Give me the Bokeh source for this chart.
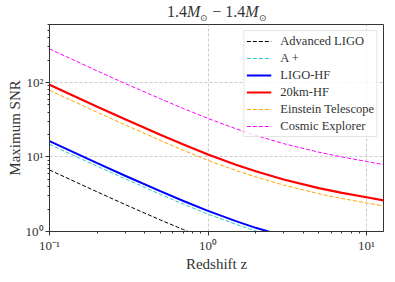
import math
from bokeh.plotting import figure
from bokeh.models import Legend, LegendItem, LogTicker, Div
from bokeh.layouts import column
from bokeh.embed import file_html
from bokeh.resources import INLINE

# ---------------- data ----------------
z = [0.1, 0.2, 0.3, 0.5, 0.7, 1.0, 1.5, 2.0, 3.0, 5.0, 7.0, 10.0, 12.8]
snr_20km_hf = [92.9, 47.2, 32.0, 19.9, 14.7, 10.8, 7.87, 6.43, 4.98, 3.82, 3.30, 2.88, 2.62]
snr_et = [78.5, 39.8, 27.0, 16.7, 12.3, 9.0, 6.6, 5.4, 4.2, 3.21, 2.77, 2.42, 2.20]
snr_ce = [282, 143, 97, 60.5, 44.6, 32.9, 23.9, 19.5, 15.1, 11.6, 10.0, 8.7, 7.9]
z_ligo = [0.1, 0.2, 0.3, 0.5, 0.7, 1.0, 1.5, 2.0, 3.0]
snr_ligo_hf = [16.3, 8.27, 5.6, 3.48, 2.57, 1.89, 1.38, 1.12, 0.87]
snr_aplus = [14.8, 7.5, 5.1, 3.16, 2.33, 1.71, 1.25, 1.02, 0.79]
z_aligo = [0.1, 0.2, 0.3, 0.5, 0.7, 1.0]
snr_aligo = [6.7, 3.4, 2.3, 1.43, 1.06, 0.78]

series_labels = ["Advanced LIGO", "A +", "LIGO-HF", "20km-HF", "Einstein Telescope", "Cosmic Explorer"]
x_ticks = [0.1, 1, 10]
x_tick_labels = ["10⁻¹", "10⁰", "10¹"]
y_ticks = [1, 10, 100]
y_tick_labels = ["10⁰", "10¹", "10²"]

X0, X1 = 0.1, 12.8
Y0, Y1 = 1.0, 600.0

FONT = "Liberation Serif"
INK = "#333333"

W, H = 386, 254
BL, BR, BT, BB = 49, 3, 4, 39
TITLE_H = 20

p = figure(width=W, height=H, x_axis_type="log", y_axis_type="log",
           x_range=(X0, X1), y_range=(Y0, Y1),
           output_backend="svg", toolbar_location=None,
           min_border_left=BL, min_border_right=BR, min_border_top=BT, min_border_bottom=BB)

p.background_fill_color = "white"
p.border_fill_color = "white"
p.outline_line_color = INK
p.outline_line_width = 1

for ax in (p.xaxis[0], p.yaxis[0]):
    ax.axis_line_color = INK
    ax.major_tick_line_color = INK
    ax.minor_tick_line_color = INK
    ax.major_tick_out = 4
    ax.major_tick_in = 0
    ax.minor_tick_out = 2
    ax.minor_tick_in = 0
    ax.major_label_text_font = FONT
    ax.major_label_text_font_size = "13px"
    ax.major_label_text_color = INK
    ax.major_label_standoff = 2
    ax.axis_label_text_font = FONT
    ax.axis_label_text_font_size = "15px"
    ax.axis_label_text_font_style = "normal"
    ax.axis_label_text_color = INK
    ax.axis_label_standoff = 0

p.xaxis.axis_label = "Redshift z"
p.yaxis.axis_label = "Maximum SNR"

p.xaxis.ticker = LogTicker(desired_num_ticks=3, num_minor_ticks=10)
p.yaxis.ticker = LogTicker(desired_num_ticks=3, num_minor_ticks=10)
p.xaxis.major_label_overrides = {t: l for t, l in zip(x_ticks, x_tick_labels)}
p.yaxis.major_label_overrides = {t: l for t, l in zip(y_ticks, y_tick_labels)}

for g in (p.xgrid[0], p.ygrid[0]):
    g.grid_line_color = "#cccccc"
    g.grid_line_dash = "3 2"
    g.grid_line_width = 1

r_aligo = p.line(z_aligo, snr_aligo, line_color="black", line_width=1, line_dash="4 2")
r_aplus = p.line(z_ligo, snr_aplus, line_color="#30c8c8", line_width=1, line_dash="4 2")
r_hf = p.line(z_ligo, snr_ligo_hf, line_color="blue", line_width=2)
r_et = p.line(z, snr_et, line_color="#ffa500", line_width=1, line_dash="4 2")
r_20 = p.line(z, snr_20km_hf, line_color="red", line_width=2.2)
r_ce = p.line(z, snr_ce, line_color="magenta", line_width=1, line_dash="4 2")

legend = Legend(items=[LegendItem(label=lab, renderers=[r]) for lab, r in
                       zip(series_labels, [r_aligo, r_aplus, r_hf, r_20, r_et, r_ce])],
                location="top_right")
legend.margin = 6
legend.padding = 2
legend.spacing = 1
legend.glyph_width = 25
legend.glyph_height = 16
legend.label_height = 16
legend.label_standoff = 9
legend.label_text_font = FONT
legend.label_text_font_size = "12.5px"
legend.label_text_color = INK
legend.border_line_color = "#cccccc"
legend.background_fill_color = "white"
legend.background_fill_alpha = 0.8
p.add_layout(legend)

title_html = (
    '<div style="font-family:\'Liberation Serif\',serif;font-size:16px;color:#333333;'
    'line-height:20px;padding-left:167px;padding-top:2px;white-space:nowrap;">'
    '1.4<i>M</i><sub style="font-size:9px;">⊙</sub> − 1.4<i>M</i><sub style="font-size:9px;">⊙</sub>'
    '</div>'
)
title = Div(text=title_html, width=W, height=TITLE_H, margin=(0, 0, 0, 0))

layout = column(title, p, spacing=0)

open("out.html", "w").write(file_html(layout, INLINE))
